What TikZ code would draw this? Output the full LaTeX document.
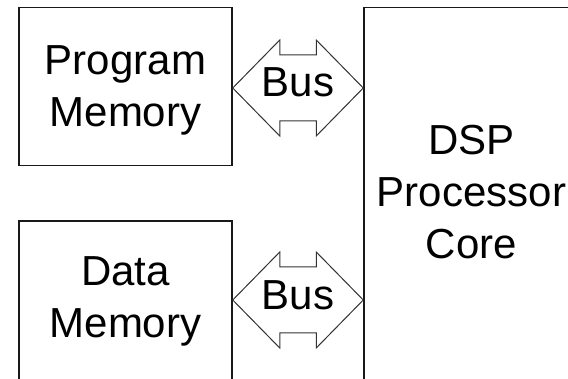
\documentclass[tikz,border=0pt]{standalone}
\usepackage{fontspec}
\setmainfont{Liberation Sans}
\usetikzlibrary{calc}

% Outlined double-headed bus arrow between two tip coordinates
\newcommand\busarrowpath[2]{%
  \draw[busline] (#1) -- ($(#1)+(47,-48)$) -- ($(#1)+(47,-33)$)
    -- ($(#2)+(-47,-33)$) -- ($(#2)+(-47,-48)$) -- (#2)
    -- ($(#2)+(-47,48)$) -- ($(#2)+(-47,33)$)
    -- ($(#1)+(47,33)$) -- ($(#1)+(47,48)$) -- cycle;}

\begin{document}
\begin{tikzpicture}[x=1pt,y=-1pt,
  block/.style={draw=black!90, line width=1.5pt, inner sep=0pt},
  lbl/.style={font=\fontsize{42}{52}\selectfont, align=center, inner sep=0pt, text depth=0pt},
  busline/.style={draw=black!80, line width=1pt, line join=miter}]
\useasboundingbox (0,0) rectangle (568,379);
\clip (0,0) rectangle (568,379);

% blocks
\node[block, minimum width=213pt, minimum height=158pt] (pm) at (125.5,86.5) {};
\node[block, minimum width=213pt, minimum height=199pt] (dm) at (125.5,320.5) {};
\node[block, minimum width=215pt, minimum height=412.5pt] (core) at (471.5,213.75) {};

% block labels
\node[lbl] (pmtext) at (125.5,86.5) {Program\\Memory};
\node[lbl] (dmtext) at (125.5,297.5) {Data\\Memory};
\node[lbl] (coretext) at (471.5,191.5) {DSP\\Processor\\Core};

% bus connectors
\coordinate (ya) at (0,88);
\coordinate (yb) at (0,300);
\coordinate (pa) at (pm.east |- ya);
\coordinate (ca) at (core.west |- ya);
\coordinate (db) at (dm.east |- yb);
\coordinate (cb) at (core.west |- yb);
\busarrowpath{pa}{ca}
\busarrowpath{db}{cb}
\node[lbl] (bustop) at ($($(pa)!0.5!(ca)$)+(0,-5.5)$) {Bus};
\node[lbl] (busbot) at ($($(db)!0.5!(cb)$)+(0,-5)$) {Bus};
\end{tikzpicture}
\end{document}
